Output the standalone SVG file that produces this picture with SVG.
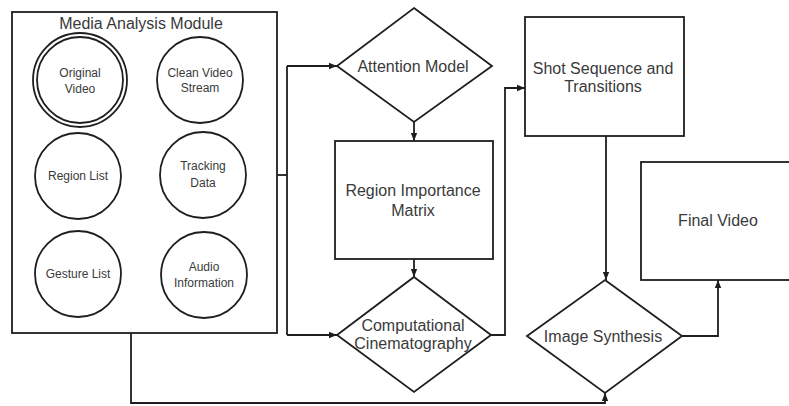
<svg xmlns="http://www.w3.org/2000/svg" width="789" height="406" viewBox="0 0 789 406">
<defs>
<style>
.s{fill:#fff;stroke:#1e1e1e;stroke-width:1.8}
.c{fill:none;stroke:#1e1e1e;stroke-width:1.8}
.t{font-family:"Liberation Sans",Arial,sans-serif;fill:#3a3a3a;text-anchor:middle}
.big{font-size:16px}
.sm{font-size:12px}
</style>
<marker id="ah" viewBox="0 0 10 10" refX="10" refY="5" markerWidth="8" markerHeight="8" markerUnits="userSpaceOnUse" orient="auto">
<path d="M0,1 L10,5 L0,9 Z" fill="#1e1e1e"/>
</marker>
</defs>
<rect width="789" height="406" fill="#fff"/>

<g id="connectors">
<path class="c" d="M277,175 H287"/>
<path class="c" d="M287,66 V335"/>
<path class="c" d="M287,66 H337" marker-end="url(#ah)"/>
<path class="c" d="M287,335 H337" marker-end="url(#ah)"/>
<path class="c" d="M414,122 V141" marker-end="url(#ah)"/>
<path class="c" d="M414,259 V277" marker-end="url(#ah)"/>
<path class="c" d="M491,335 H505 V88 H525" marker-end="url(#ah)"/>
<path class="c" d="M606,136 V280" marker-end="url(#ah)"/>
<path class="c" d="M682,336 H718 V280" marker-end="url(#ah)"/>
<path class="c" d="M131,333 V403 H605 V393" marker-end="url(#ah)"/>
</g>

<g id="media-analysis-module">
<rect class="s" x="12" y="12" width="265" height="321"/>
<text class="t big" x="141" y="29">Media Analysis Module</text>
</g>

<g id="original-video">
<circle class="s" cx="80" cy="80" r="47"/>
<circle class="s" cx="80" cy="80" r="43"/>
<text class="t sm" x="80" y="77">Original</text>
<text class="t sm" x="80" y="93">Video</text>
</g>

<g id="clean-video-stream">
<circle class="s" cx="200" cy="80" r="43"/>
<text class="t sm" x="200" y="77">Clean Video</text>
<text class="t sm" x="200" y="92">Stream</text>
</g>

<g id="region-list">
<circle class="s" cx="78" cy="176" r="43"/>
<text class="t sm" x="78" y="180">Region List</text>
</g>

<g id="tracking-data">
<circle class="s" cx="203" cy="175" r="43"/>
<text class="t sm" x="203" y="170">Tracking</text>
<text class="t sm" x="203" y="187">Data</text>
</g>

<g id="gesture-list">
<circle class="s" cx="78" cy="274" r="43"/>
<text class="t sm" x="78" y="278">Gesture List</text>
</g>

<g id="audio-information">
<circle class="s" cx="204" cy="275" r="43"/>
<text class="t sm" x="204" y="271">Audio</text>
<text class="t sm" x="204" y="287">Information</text>
</g>

<g id="attention-model">
<polygon class="s" points="414,8 492,66 414,122 337,66"/>
<text class="t big" x="413" y="72">Attention Model</text>
</g>

<g id="region-importance-matrix">
<rect class="s" x="335" y="141" width="158" height="118"/>
<text class="t big" x="413" y="196">Region Importance</text>
<text class="t big" x="413" y="216">Matrix</text>
</g>

<g id="computational-cinematography">
<polygon class="s" points="414,277 491,335 414,392 337,335"/>
<text class="t big" x="413" y="331">Computational</text>
<text class="t big" x="413" y="349">Cinematography</text>
</g>

<g id="shot-sequence">
<rect class="s" x="525" y="17" width="159" height="119"/>
<text class="t big" x="603" y="74">Shot Sequence and</text>
<text class="t big" x="603" y="92">Transitions</text>
</g>

<g id="image-synthesis">
<polygon class="s" points="605,280 682,336 605,393 527,336"/>
<text class="t big" x="603" y="342">Image Synthesis</text>
</g>

<g id="final-video">
<rect class="s" x="641" y="162" width="160" height="118"/>
<text class="t big" x="718" y="226">Final Video</text>
</g>
</svg>
